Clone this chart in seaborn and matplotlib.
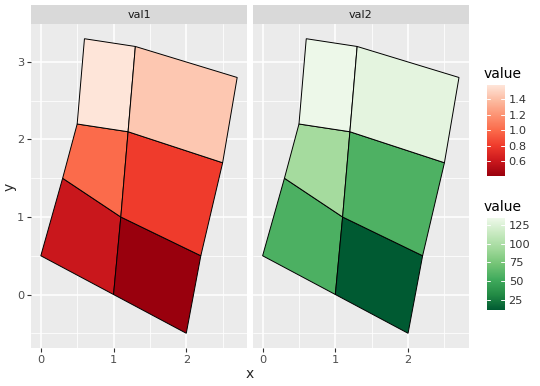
import numpy as np
import matplotlib
matplotlib.use("Agg")
import matplotlib.pyplot as plt
import seaborn as sns
from matplotlib.colors import LinearSegmentedColormap, Normalize
from matplotlib.patches import Polygon

# grid vertices (rows from bottom to top, 3 columns each)
grid_x = [[0.0, 1.0, 2.0],
          [0.3, 1.1, 2.2],
          [0.5, 1.2, 2.5],
          [0.6, 1.3, 2.7]]
grid_y = [[0.5, 0.0, -0.5],
          [1.5, 1.0, 0.5],
          [2.2, 2.1, 1.7],
          [3.3, 3.2, 2.8]]
# cell values: rows bottom->top, cols left->right
val1 = [[0.60, 0.41],
        [1.00, 0.80],
        [1.58, 1.44]]
val2 = [[57, 12],
        [95, 58],
        [134, 129]]
facets = ["val1", "val2"]
x_ticks = [0, 1, 2]
y_ticks = [0, 1, 2, 3]
ticks1 = [0.6, 0.8, 1.0, 1.2, 1.4]
ticks2 = [25, 50, 75, 100, 125]

reds = ["#99000D", "#CB181D", "#EF3B2C", "#FB6A4A", "#FC9272", "#FCBBA1", "#FEE5D9"]
greens = ["#005A32", "#238B45", "#41AB5D", "#74C476", "#A1D99B", "#C7E9C0", "#EDF8E9"]
cmap1 = LinearSegmentedColormap.from_list("r", reds)
cmap2 = LinearSegmentedColormap.from_list("g", greens)

sns.set_theme(style="darkgrid")
plt.rcParams['font.family'] = ['DejaVu Sans']

W, H = 540, 386
fig = plt.figure(figsize=(W / 100, H / 100), dpi=100)

def frac(x0, y0, x1, y1):
    return [x0 / W, 1 - y1 / H, (x1 - x0) / W, (y1 - y0) / H]

panels = [(31, 247), (252.8, 468.8)]
vals = [val1, val2]
cmaps = [cmap1, cmap2]
norms = [Normalize(min(min(r) for r in val1), max(max(r) for r in val1)),
         Normalize(min(min(r) for r in val2), max(max(r) for r in val2))]

allx = [v for r in grid_x for v in r]
ally = [v for r in grid_y for v in r]
xr = max(allx) - min(allx); yr = max(ally) - min(ally)
xlim = (min(allx) - 0.05 * xr, max(allx) + 0.05 * xr)
ylim = (min(ally) - 0.05 * yr, max(ally) + 0.05 * yr)

for i, (px0, px1) in enumerate(panels):
    ax = fig.add_axes(frac(px0, 24, px1, 348))
    ax.set_facecolor("#EBEBEB")
    for s in ax.spines.values():
        s.set_visible(False)
    ax.set_xlim(*xlim); ax.set_ylim(*ylim)
    ax.set_xticks(x_ticks); ax.set_yticks(y_ticks)
    ax.set_xticks([0.5, 1.5, 2.5], minor=True)
    ax.set_yticks([-0.5, 0.5, 1.5, 2.5], minor=True)
    ax.grid(True, which="major", color="white", lw=1.1)
    ax.grid(True, which="minor", color="white", lw=0.55)
    ax.set_axisbelow(True)
    ax.tick_params(which="major", length=2.8, width=0.8, color="#333333",
                   labelsize=8.2, labelcolor="#4D4D4D", pad=2, bottom=True, left=(i == 0))
    ax.tick_params(which="minor", length=0)
    if i == 1:
        ax.set_yticklabels([])
    for r in range(3):
        for c in range(2):
            pts = [(grid_x[r][c], grid_y[r][c]), (grid_x[r][c + 1], grid_y[r][c + 1]),
                   (grid_x[r + 1][c + 1], grid_y[r + 1][c + 1]), (grid_x[r + 1][c], grid_y[r + 1][c])]
            col = cmaps[i](norms[i](vals[i][r][c]))
            ax.add_patch(Polygon(pts, closed=True, facecolor=col, edgecolor="black", lw=0.7, zorder=3))
    # strip
    sax = fig.add_axes(frac(px0, 5, px1, 24))
    sax.set_facecolor("#D9D9D9")
    sax.set_xticks([]); sax.set_yticks([])
    for s in sax.spines.values():
        s.set_visible(False)
    sax.text(0.5, 0.5, facets[i], ha="center", va="center", fontsize=8, color="#1A1A1A",
             transform=sax.transAxes)

fig.text(250 / W, 1 - 374 / H, "x", ha="center", va="center", fontsize=10)
fig.text(10 / W, 1 - 187 / H, "y", ha="center", va="center", fontsize=10, rotation=90)

# colorbars
cb_specs = [(85, 176, ticks1, 74), (218, 310, ticks2, 207)]
for i, (y0, y1, tks, ty) in enumerate(cb_specs):
    cax = fig.add_axes(frac(486.5, y0, 504.5, y1))
    sm = matplotlib.cm.ScalarMappable(norm=norms[i], cmap=cmaps[i])
    cb = fig.colorbar(sm, cax=cax, ticks=tks)
    cb.outline.set_visible(False)
    cax.tick_params(length=0, labelsize=8.2, labelcolor="#333333", pad=3)
    cb.set_ticklabels([f"{t:.1f}" if i == 0 else f"{t}" for t in tks])
    for t in tks:
        cax.plot([0, 0.2], [t, t], color="white", lw=0.7, transform=cax.get_yaxis_transform())
        cax.plot([0.8, 1], [t, t], color="white", lw=0.7, transform=cax.get_yaxis_transform())
    fig.text(484 / W, 1 - ty / H, "value", ha="left", va="center", fontsize=10, color="black")

fig.savefig("out.png", dpi=100)
